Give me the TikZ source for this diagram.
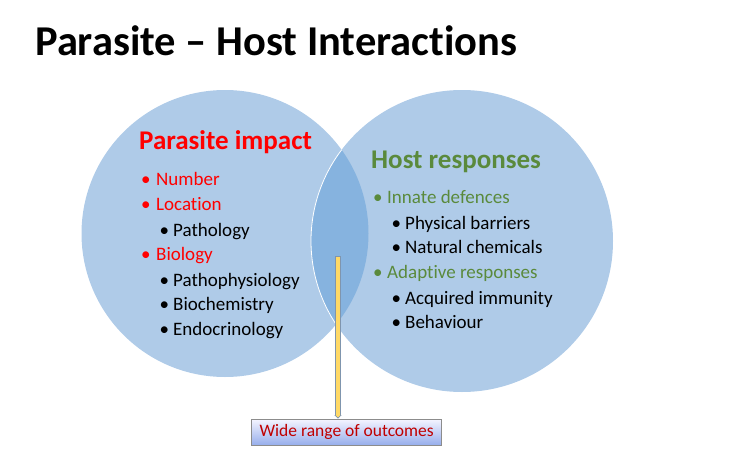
\documentclass[tikz,border=0pt]{standalone}
\usepackage{fontspec}
\setmainfont{Carlito}[RawFeature=-liga]
\usetikzlibrary{arrows.meta}
\definecolor{circblue}{HTML}{AFCBE8}
\definecolor{lensblue}{HTML}{86B3DF}
\definecolor{parared}{HTML}{FF0000}
\definecolor{hostgreen}{HTML}{5A8A3C}
\definecolor{outred}{HTML}{C00000}
\definecolor{arrowedge}{HTML}{7F95AE}
\definecolor{arrowfill}{HTML}{FFD966}
\tikzset{
  heading/.style={anchor=base west, inner sep=0pt, font=\bfseries\fontsize{27}{32}\selectfont},
  item/.style={anchor=base west, inner sep=0pt, font=\fontsize{19}{23}\selectfont},
  outbox/.style={draw=black!45, line width=0.8pt, top color=blue!4!white, bottom color=circblue!85!blue,
    minimum width=190pt, minimum height=26.5pt, inner sep=0pt, text=outred, font=\fontsize{17.5}{20}\selectfont}
}
\begin{document}
\begin{tikzpicture}[x=1pt,y=-1pt]
\useasboundingbox (0,0) rectangle (740,466);
% title
\node[anchor=base west, inner sep=0pt, font=\bfseries\fontsize{42.5}{48}\selectfont] (title) at (35,55) {Parasite -- Host Interactions};
% the two circles and their overlap
\coordinate (pc) at (225,233.5);
\coordinate (hc) at (462,241);
\fill[circblue] (pc) circle (143.5pt);
\fill[circblue] (hc) circle (151pt);
\begin{scope}
  \clip (pc) circle (143.5pt);
  \fill[lensblue] (hc) circle (151pt);
  \draw[white, line width=0.8pt] (hc) circle (151pt);
\end{scope}
% parasite side
\node[heading, text=parared] (parasite) at (139,149) {Parasite impact};
\foreach \y/\txt [count=\i] in {185.7/Number, 210.7/Location, 260/Biology}
  \node[item, text=parared] (pr\i) at (141,\y) {\makebox[15pt][l]{\textbullet}\txt};
\foreach \y/\txt [count=\i] in {236/Pathology, 286/Pathophysiology, 310/Biochemistry, 335/Endocrinology}
  \node[item] (pb\i) at (159.5,\y) {\makebox[13.5pt][l]{\textbullet}\txt};
% host side
\node[heading, text=hostgreen] (host) at (371,168.3) {Host responses};
\foreach \y/\txt [count=\i] in {203.3/Innate defences, 278.3/Adaptive responses}
  \node[item, text=hostgreen] (hg\i) at (373,\y) {\makebox[14pt][l]{\textbullet}\txt};
\foreach \y/\txt [count=\i] in {229.3/Physical barriers, 253.3/Natural chemicals, 304/Acquired immunity, 328.3/Behaviour}
  \node[item] (hb\i) at (391.5,\y) {\makebox[13.5pt][l]{\textbullet}\txt};
% outcome box and arrow
\node[outbox] (outcomes) at (346.7,432.3) {Wide range of outcomes};
\coordinate (src) at (338,256);
\draw[arrowedge, line width=5.6pt, -{Triangle[length=3.5pt,width=7pt]}] (src) -- (src |- outcomes.north);
\draw[arrowfill, line width=3.8pt, shorten <=0.9pt, shorten >=1.3pt, -{Triangle[length=2.4pt,width=4.6pt]}] (src) -- (src |- outcomes.north);
\end{tikzpicture}
\end{document}
